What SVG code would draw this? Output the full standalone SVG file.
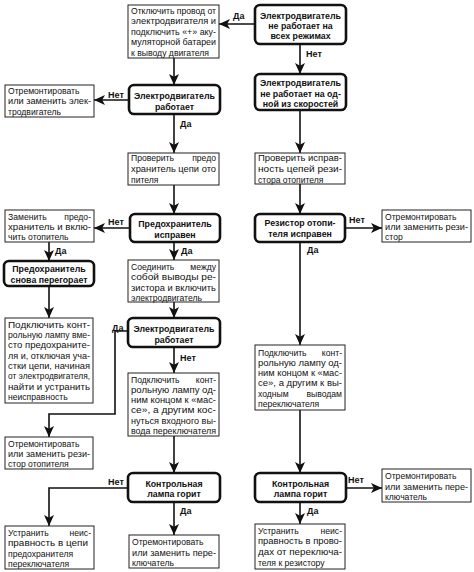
<svg xmlns="http://www.w3.org/2000/svg" width="474" height="572" viewBox="0 0 474 572">
<style>
.box{fill:#fff;stroke:#222;stroke-width:1}
.node{fill:#fff;stroke:#111;stroke-width:2.6}
.t{font-family:"Liberation Sans",Arial,sans-serif;font-size:8.6px;fill:#111}
.b{font-family:"Liberation Sans",Arial,sans-serif;font-size:8.8px;font-weight:bold;fill:#111;text-anchor:middle}
.lbl{font-family:"Liberation Sans",Arial,sans-serif;font-size:9px;font-weight:bold;fill:#111}
.c{stroke:#111;stroke-width:1.6;fill:none;marker-end:url(#ah)}
</style>
<defs>
<marker id="ah" markerUnits="userSpaceOnUse" markerWidth="11" markerHeight="11" refX="11" refY="5.5" orient="auto">
<path d="M0,0.5 L11,5.5 L0,10.5 L2.8,5.5 z" fill="#111"/>
</marker>
</defs>
<rect width="474" height="572" fill="#fff"/>

<g id="connectors">
<path class="c" d="M255,24 H219"/>
<path class="c" d="M300,44 V74"/>
<path class="c" d="M300,110 V153"/>
<path class="c" d="M174,58 V85"/>
<path class="c" d="M129,100 H94"/>
<path class="c" d="M174,114 V153"/>
<path class="c" d="M174,185 V214"/>
<path class="c" d="M130,228 H94"/>
<path class="c" d="M49,242 V261"/>
<path class="c" d="M174,242 V260"/>
<path class="c" d="M300,184 V214"/>
<path class="c" d="M345,228 H382"/>
<path class="c" d="M300,242 V345"/>
<path class="c" d="M49,286 V318"/>
<path class="c" d="M174,302 V318"/>
<path class="c" d="M128,331 H115 V414 H49 V437"/>
<path class="c" d="M174,347 V373"/>
<path class="c" d="M174,436 V473"/>
<path class="c" d="M128,488 H49 V526"/>
<path class="c" d="M174,502 V535"/>
<path class="c" d="M300,410 V473"/>
<path class="c" d="M346,488 H382"/>
<path class="c" d="M300,502 V524"/>
<text class="lbl" x="233" y="19">Да</text>
<text class="lbl" x="306" y="57">Нет</text>
<text class="lbl" x="108" y="98">Нет</text>
<text class="lbl" x="180" y="127">Да</text>
<text class="lbl" x="108" y="225">Нет</text>
<text class="lbl" x="55" y="254">Да</text>
<text class="lbl" x="181" y="254">Да</text>
<text class="lbl" x="349" y="223">Нет</text>
<text class="lbl" x="307" y="253">Да</text>
<text class="lbl" x="112" y="331">Да</text>
<text class="lbl" x="180" y="361">Нет</text>
<text class="lbl" x="108" y="485">Нет</text>
<text class="lbl" x="348" y="483">Нет</text>
<text class="lbl" x="180" y="514">Да</text>
<text class="lbl" x="307" y="514">Да</text>
</g>

<g id="n1">
<rect class="node" x="255" y="5" width="91" height="39" rx="5"/>
<text class="b" x="300.5" y="18.5">Электродвигатель</text>
<text class="b" x="300.5" y="28.5">не работает на</text>
<text class="b" x="300.5" y="38.5">всех режимах</text>
</g>
<g id="n2">
<rect class="node" x="255" y="74" width="91" height="36" rx="5"/>
<text class="b" x="300.5" y="85.5">Электродвигатель</text>
<text class="b" x="300.5" y="96.5">не работает на од-</text>
<text class="b" x="300.5" y="107">ной из скоростей</text>
</g>
<g id="b1">
<rect class="box" x="128" y="5" width="91" height="53"/>
<text class="t" x="131" y="13.5" textLength="85" lengthAdjust="spacingAndGlyphs">Отключить провод от</text>
<text class="t" x="131" y="24" textLength="85" lengthAdjust="spacingAndGlyphs">электродвигателя  и</text>
<text class="t" x="131" y="34.5" textLength="85" lengthAdjust="spacingAndGlyphs">подключить «+» аку-</text>
<text class="t" x="131" y="45" textLength="85" lengthAdjust="spacingAndGlyphs">муляторной батареи</text>
<text class="t" x="131" y="55.5" textLength="78" lengthAdjust="spacingAndGlyphs">к выводу двигателя</text>
</g>
<g id="n3">
<rect class="node" x="129" y="85" width="91" height="29" rx="5"/>
<text class="b" x="174.5" y="98.5">Электродвигатель</text>
<text class="b" x="174.5" y="109.5">работает</text>
</g>
<g id="b2">
<rect class="box" x="5" y="85" width="89" height="32"/>
<text class="t" x="8" y="93.5">Отремонтировать</text>
<text class="t" x="8" y="104" textLength="83" lengthAdjust="spacingAndGlyphs">или заменить элек-</text>
<text class="t" x="8" y="114.5">тродвигатель</text>
</g>
<g id="b3">
<rect class="box" x="128" y="153" width="91" height="32"/>
<text class="t" x="131" y="160.5">Проверить</text>
<text class="t" x="216" y="160.5" text-anchor="end">предо</text>
<text class="t" x="131" y="171.5" textLength="85" lengthAdjust="spacingAndGlyphs">хранитель цепи ото</text>
<text class="t" x="131" y="182.5">пителя</text>
</g>
<g id="b4">
<rect class="box" x="255" y="153" width="90" height="31"/>
<text class="t" x="258" y="161" textLength="84" lengthAdjust="spacingAndGlyphs">Проверить исправ-</text>
<text class="t" x="258" y="172" textLength="84" lengthAdjust="spacingAndGlyphs">ность цепей рези-</text>
<text class="t" x="258" y="182.5">стора отопителя</text>
</g>
<g id="n4">
<rect class="node" x="130" y="214" width="90" height="28" rx="5"/>
<text class="b" x="175" y="226.5">Предохранитель</text>
<text class="b" x="175" y="237.5">исправен</text>
</g>
<g id="b5">
<rect class="box" x="5" y="210" width="89" height="32"/>
<text class="t" x="8" y="219.5">Заменить</text>
<text class="t" x="91" y="219.5" text-anchor="end">предо-</text>
<text class="t" x="8" y="230" textLength="83" lengthAdjust="spacingAndGlyphs">хранитель и вклю-</text>
<text class="t" x="8" y="240">чить отопитель</text>
</g>
<g id="n5">
<rect class="node" x="255" y="214" width="90" height="28" rx="5"/>
<text class="b" x="300" y="225.5">Резистор отопи-</text>
<text class="b" x="300" y="236.5">теля исправен</text>
</g>
<g id="b6">
<rect class="box" x="382" y="210" width="89" height="32"/>
<text class="t" x="385" y="219.5">Отремонтировать</text>
<text class="t" x="385" y="229.5" textLength="83" lengthAdjust="spacingAndGlyphs">или заменить рези-</text>
<text class="t" x="385" y="240">стор</text>
</g>
<g id="n6">
<rect class="node" x="4" y="261" width="90" height="25" rx="5"/>
<text class="b" x="49" y="271.5">Предохранитель</text>
<text class="b" x="49" y="282.5">снова перегорает</text>
</g>
<g id="b7">
<rect class="box" x="128" y="260" width="91" height="42"/>
<text class="t" x="131" y="269.5">Соединить</text>
<text class="t" x="216" y="269.5" text-anchor="end">между</text>
<text class="t" x="131" y="280" textLength="85" lengthAdjust="spacingAndGlyphs">собой выводы ре-</text>
<text class="t" x="131" y="290.5" textLength="85" lengthAdjust="spacingAndGlyphs">зистора и включить</text>
<text class="t" x="131" y="300.5">электродвигатель</text>
</g>
<g id="b8">
<rect class="box" x="5" y="318" width="88" height="85"/>
<text class="t" x="8" y="327.5" textLength="82" lengthAdjust="spacingAndGlyphs">Подключить конт-</text>
<text class="t" x="8" y="338" textLength="82" lengthAdjust="spacingAndGlyphs">рольную лампу вме-</text>
<text class="t" x="8" y="348.3" textLength="82" lengthAdjust="spacingAndGlyphs">сто предохраните-</text>
<text class="t" x="8" y="358.6" textLength="82" lengthAdjust="spacingAndGlyphs">ля и, отключая уча-</text>
<text class="t" x="8" y="369" textLength="82" lengthAdjust="spacingAndGlyphs">стки цепи, начиная</text>
<text class="t" x="8" y="379.3" textLength="82" lengthAdjust="spacingAndGlyphs">от электродвигателя,</text>
<text class="t" x="8" y="389.6" textLength="82" lengthAdjust="spacingAndGlyphs">найти и устранить</text>
<text class="t" x="8" y="400">неисправность</text>
</g>
<g id="n7">
<rect class="node" x="128" y="318" width="92" height="29" rx="5"/>
<text class="b" x="174" y="331.5">Электродвигатель</text>
<text class="b" x="174" y="343">работает</text>
</g>
<g id="b9">
<rect class="box" x="128" y="373" width="91" height="63"/>
<text class="t" x="131" y="382.5">Подключить</text>
<text class="t" x="216" y="382.5" text-anchor="end">конт-</text>
<text class="t" x="131" y="392.8" textLength="85" lengthAdjust="spacingAndGlyphs">рольную лампу од-</text>
<text class="t" x="131" y="403.1" textLength="85" lengthAdjust="spacingAndGlyphs">ним концом к «мас-</text>
<text class="t" x="131" y="413.4" textLength="85" lengthAdjust="spacingAndGlyphs">се», а другим кос-</text>
<text class="t" x="131" y="423.7" textLength="85" lengthAdjust="spacingAndGlyphs">нуться входного вы-</text>
<text class="t" x="131" y="434" textLength="85" lengthAdjust="spacingAndGlyphs">вода переключателя</text>
</g>
<g id="b10">
<rect class="box" x="255" y="345" width="90" height="65"/>
<text class="t" x="258" y="355.5">Подключить</text>
<text class="t" x="342" y="355.5" text-anchor="end">конт-</text>
<text class="t" x="258" y="365.8" textLength="84" lengthAdjust="spacingAndGlyphs">рольную лампу од-</text>
<text class="t" x="258" y="376.1" textLength="84" lengthAdjust="spacingAndGlyphs">ним концом к «мас-</text>
<text class="t" x="258" y="386.4" textLength="84" lengthAdjust="spacingAndGlyphs">се», а другим к вы-</text>
<text class="t" x="258" y="396.7">ходным</text>
<text class="t" x="342" y="396.7" text-anchor="end">выводам</text>
<text class="t" x="258" y="407">переключателя</text>
</g>
<g id="b11">
<rect class="box" x="5" y="437" width="88" height="32"/>
<text class="t" x="8" y="446.5">Отремонтировать</text>
<text class="t" x="8" y="457" textLength="82" lengthAdjust="spacingAndGlyphs">или заменить рези-</text>
<text class="t" x="8" y="467">стор отопителя</text>
</g>
<g id="n8">
<rect class="node" x="128" y="473" width="92" height="29" rx="5"/>
<text class="b" x="174" y="486.5">Контрольная</text>
<text class="b" x="174" y="497">лампа горит</text>
</g>
<g id="n9">
<rect class="node" x="255" y="473" width="91" height="29" rx="5"/>
<text class="b" x="300.5" y="486.5">Контрольная</text>
<text class="b" x="300.5" y="497">лампа горит</text>
</g>
<g id="b12">
<rect class="box" x="382" y="469" width="89" height="33"/>
<text class="t" x="385" y="478.5">Отремонтировать</text>
<text class="t" x="385" y="489.5" textLength="83" lengthAdjust="spacingAndGlyphs">или заменить пере-</text>
<text class="t" x="385" y="500">ключатель</text>
</g>
<g id="b13">
<rect class="box" x="5" y="526" width="89" height="43"/>
<text class="t" x="8" y="535.5">Устранить</text>
<text class="t" x="91" y="535.5" text-anchor="end">неис-</text>
<text class="t" x="8" y="546" textLength="80" lengthAdjust="spacingAndGlyphs">правность в цепи</text>
<text class="t" x="8" y="556.5">предохранителя</text>
<text class="t" x="8" y="566.5">переключателя</text>
</g>
<g id="b14">
<rect class="box" x="129" y="535" width="90" height="33"/>
<text class="t" x="132" y="545">Отремонтировать</text>
<text class="t" x="132" y="555.5" textLength="84" lengthAdjust="spacingAndGlyphs">или заменить пере-</text>
<text class="t" x="132" y="566">ключатель</text>
</g>
<g id="b15">
<rect class="box" x="255" y="524" width="90" height="45"/>
<text class="t" x="258" y="533.5">Устранить</text>
<text class="t" x="342" y="533.5" text-anchor="end">неис-</text>
<text class="t" x="258" y="544.3" textLength="84" lengthAdjust="spacingAndGlyphs">правность в прово-</text>
<text class="t" x="258" y="555" textLength="84" lengthAdjust="spacingAndGlyphs">дах от переключа-</text>
<text class="t" x="258" y="565.5">теля к резистору</text>
</g>
</svg>
